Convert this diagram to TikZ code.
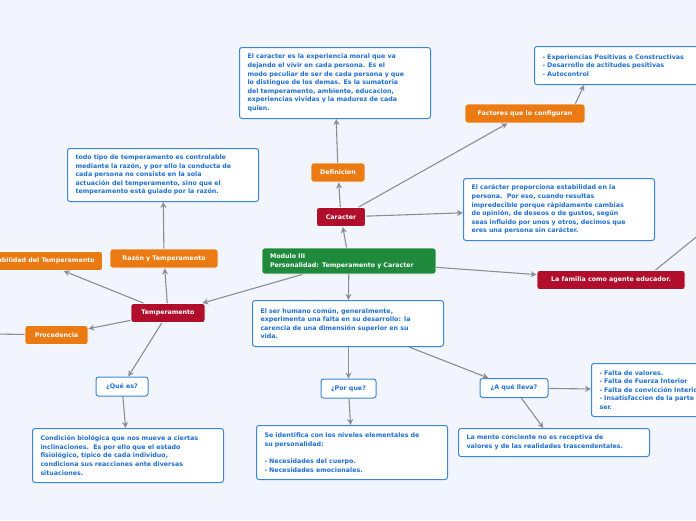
\documentclass[tikz,border=0pt]{standalone}
\usepackage{fontspec}
\setmainfont{DejaVu Sans}
\usetikzlibrary{arrows.meta}
\definecolor{bg}{HTML}{F2F5FD}
\definecolor{bt}{HTML}{1F6FD0}
\definecolor{bb}{HTML}{3A86D8}
\definecolor{org}{HTML}{EB7A12}
\definecolor{rd}{HTML}{B10E2C}
\definecolor{gr}{HTML}{1F8A3B}
\definecolor{ln}{HTML}{8A8E96}
\tikzset{
 base/.style={rounded corners=2.5pt, font=\bfseries\fontsize{6.3}{8.6}\selectfont, inner sep=0pt},
 txt/.style={base, draw=bb, line width=1pt, fill=white, text=bt, align=left, anchor=north west, inner xsep=8pt, inner ysep=5pt},
 lbl/.style={base, draw=bb, line width=1pt, fill=white, text=bt, minimum height=19pt, inner xsep=8pt},
 orn/.style={base, fill=org, draw=white, line width=0.8pt, text=white, minimum height=19pt, inner xsep=8pt},
 red/.style={base, fill=rd, draw=white, line width=0.8pt, text=white, minimum height=19pt, inner xsep=8pt},
 con/.style={draw=ln, line width=1.1pt, -{Stealth[length=6pt,width=6pt]}},
 con0/.style={draw=ln, line width=1.1pt},
}
\begin{document}
\begin{tikzpicture}[x=1pt,y=-1pt]
\fill[bg] (0,0) rectangle (696,520);
\clip (0,0) rectangle (696,520);
\useasboundingbox (0,0) rectangle (696,520);
% main
\node[base, fill=gr, draw=white, line width=0.8pt, text=white, align=left, minimum height=26pt, inner xsep=8pt, text width=158pt] (mod) at (349,261) {Modulo III\\Personalidad: Temperamento y Caracter};
% caracter branch
\node[red, minimum width=49pt] (car) at (341,217) {Caracter};
\node[orn, minimum width=54pt] (def) at (338,172.5) {Definicion};
\node[txt, text width=175pt, minimum height=71pt] (deft) at (239,47) {El caracter es la experiencia moral que va\\dejando el vivir en cada persona. Es el\\modo peculiar de ser de cada persona y que\\lo distingue de los demas. Es la sumatoria\\del temperamento, ambiente, educacion,\\experiencias vividas y la madurez de cada\\quien.};
\node[orn, minimum width=120pt] (fac) at (525,113.5) {Factores que lo configuran};
\node[txt, text width=174pt, minimum height=38pt] (exp) at (534,46) {- Experiencias Positivas o Constructivas\\- Desarrollo de actitudes positivas\\- Autocontrol};
\node[txt, text width=175pt, minimum height=62pt] (ect) at (463,178) {El carácter proporciona estabilidad en la\\persona.\ \ Por eso, cuando resultas\\impredecible porque rápidamente cambias\\de opinión, de deseos o de gustos, según\\seas influido por unos y otros, decimos que\\eres una persona sin carácter.};
\node[red, minimum width=148pt] (fam) at (611,280) {La familia como agente educador.};
\coordinate (famx) at (700,234);
% temperamento branch
\node[red, minimum width=74pt] (tem) at (168,313) {Temperamento};
\node[orn, minimum width=108pt] (raz) at (164,258.5) {Razón y Temperamento};
\node[txt, text width=175pt, minimum height=53pt] (todo) at (67,148) {todo tipo de temperamento es controlable\\mediante la razón, y por ello la conducta de\\cada persona no consiste en la sola\\actuación del temperamento, sino que el\\temperamento está guiado por la razón.};
\node[orn, anchor=east, minimum height=19pt] (var) at (103,261) {Variabilidad del Temperamento};
\node[orn, minimum width=63pt] (pro) at (56.5,335) {Procedencia};
\coordinate (prox) at (-5,334);
\node[lbl, minimum width=52pt] (que) at (122,386.5) {¿Qué es?};
\node[txt, text width=175pt, minimum height=54pt] (cond) at (32,428) {Condición biológica que nos mueve a ciertas\\inclinaciones.\ \ Es por ello que el estado\\fisiológico, típico de cada individuo,\\condiciona sus reacciones ante diversas\\situaciones.};
% ser humano branch
\node[txt, text width=175pt, minimum height=46pt] (ser) at (252,300) {El ser humano común, generalmente,\\experimenta una falta en su desarrollo: la\\carencia de una dimensión superior en su\\vida.};
\node[lbl, minimum width=55pt] (por) at (348.5,388.5) {¿Por que?};
\node[txt, text width=175pt, minimum height=54pt] (iden) at (256,425) {Se identifica con los niveles elementales de\\su personalidad:\\[8.6pt]- Necesidades del cuerpo.\\- Necesidades emocionales.};
\node[lbl, minimum width=68pt] (lle) at (514,388) {¿A qué lleva?};
\node[txt, text width=150pt, minimum height=53pt] (fal) at (591,363) {- Falta de valores.\\- Falta de Fuerza Interior\\- Falta de convicción Interior\\- Insatisfaccion de la parte del\\ser.};
\node[txt, text width=175pt, minimum height=28pt] (men) at (458,428) {La mente conciente no es receptiva de\\valores y de las realidades trascendentales.};
% connectors
\draw[con] (mod) -- (car);
\draw[con] (car) -- (def);
\draw[con] (def) -- (deft);
\draw[con] (car) -- (fac);
\draw[con] (fac.north east)+(-10,0) coordinate (fa) (fa) -- (exp.south west -| 584,0);
\draw[con] (car) -- (ect);
\draw[con] (mod) -- (fam);
\draw[con0] (fam.north east)+(-30,0) coordinate (fb) (fb) -- (famx);
\draw[con] (mod) -- (tem);
\draw[con] (tem) -- (raz);
\draw[con] (raz) -- (todo);
\draw[con] (tem) -- (var);
\draw[con] (tem) -- (pro);
\draw[con0] (pro) -- (prox);
\draw[con] (tem) -- (que);
\draw[con] (que) -- (cond);
\draw[con] (mod) -- (ser);
\draw[con] (ser.south -| por) -- (por);
\draw[con] (por) -- (iden);
\draw[con] (ser.south east)+(-35,0) coordinate (sa) (sa) -- (lle);
\draw[con] (lle) -- (fal);
\draw[con] (lle) -- (men);
\end{tikzpicture}
\end{document}
